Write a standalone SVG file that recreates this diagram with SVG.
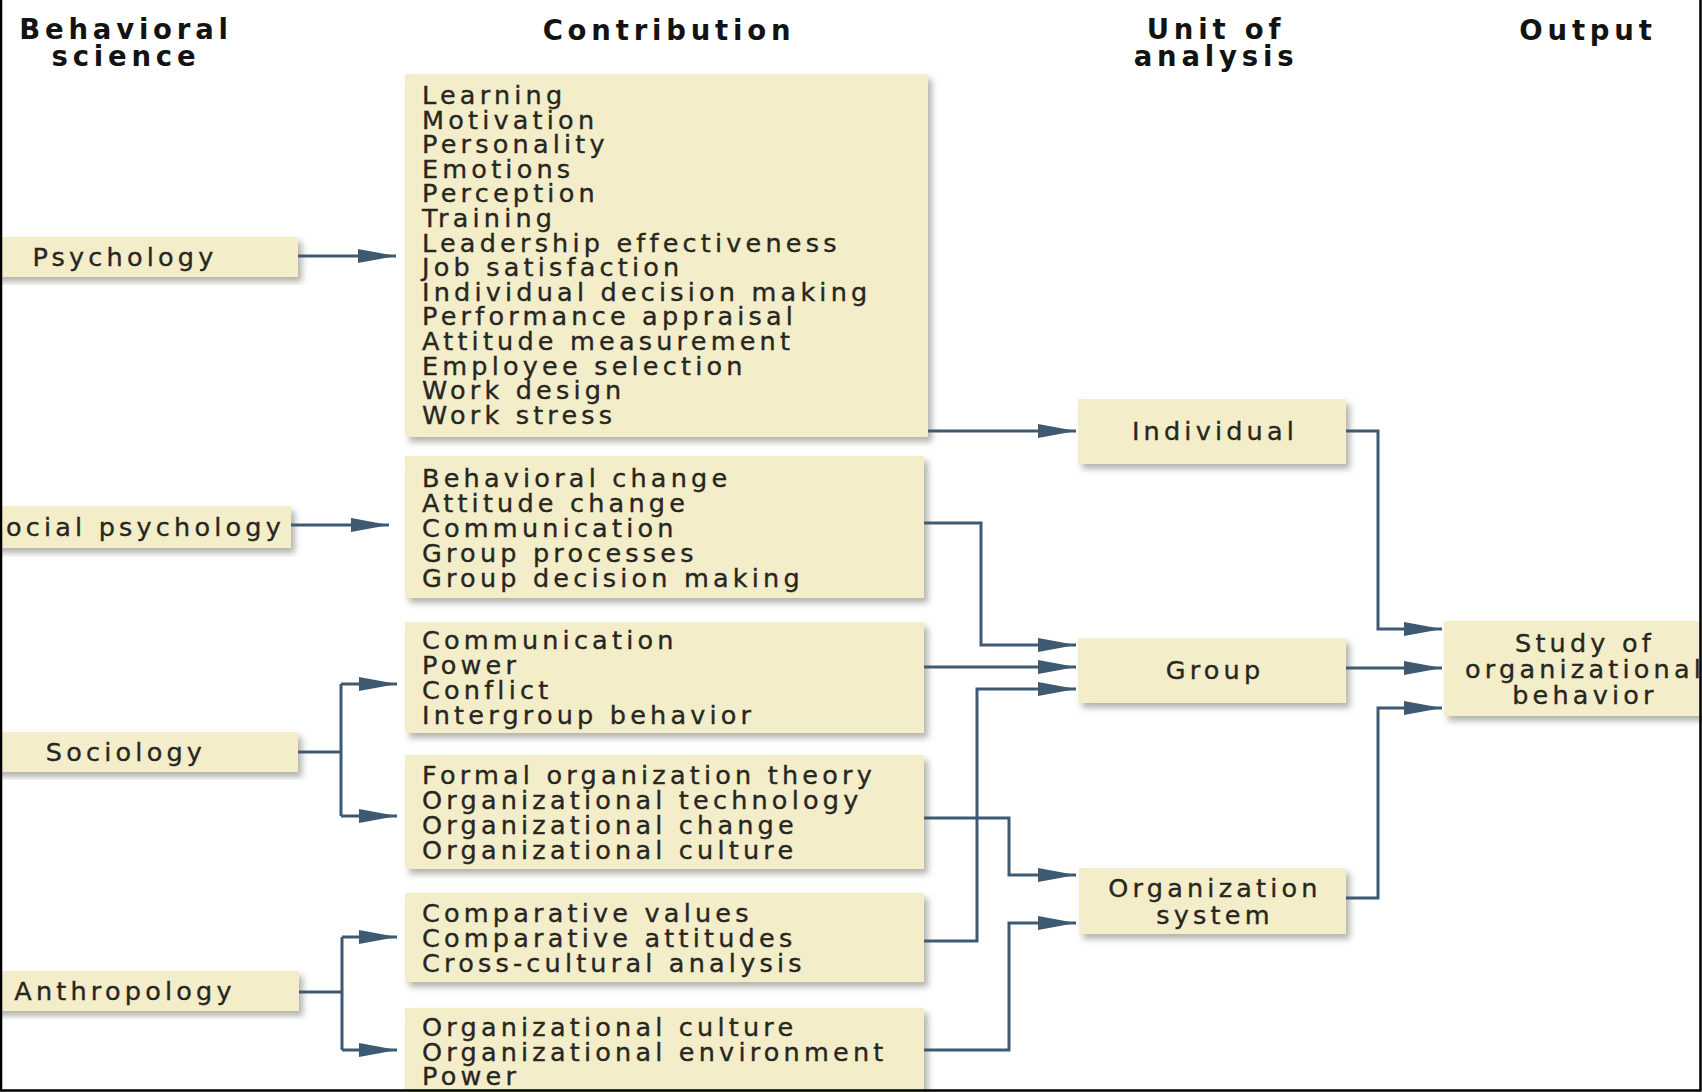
<svg xmlns="http://www.w3.org/2000/svg" width="1702" height="1092" viewBox="0 0 1702 1092">
  <style>
    .box { fill: #f3edc9; filter: url(#shadow); }
    .t { font-family: "DejaVu Sans", "Liberation Sans", sans-serif; font-size: 25.5px; letter-spacing: 4.2px; fill: #27261f; stroke: #27261f; stroke-width: 0.35; }
    .c { text-anchor: middle; }
    .h { font-family: "DejaVu Sans", "Liberation Sans", sans-serif; font-weight: bold; font-size: 27.5px; letter-spacing: 4.8px; fill: #131313; text-anchor: middle; }
    .link { fill: none; stroke: #3d5a72; stroke-width: 3; }
    .arr { marker-end: url(#head); }
  </style>
  <defs>
    <filter id="shadow" x="-5%" y="-10%" width="115%" height="130%">
      <feDropShadow dx="4" dy="5" stdDeviation="3" flood-color="#76766c" flood-opacity="0.55"/>
    </filter>
    <marker id="head" markerUnits="userSpaceOnUse" markerWidth="40" markerHeight="14" refX="38" refY="7" orient="auto">
      <path d="M0,0 L38,7 L0,14 z" fill="#3d5a72"/>
    </marker>
  </defs>

  <rect width="1702" height="1092" fill="#ffffff"/>

  <!-- column headings -->
  <g id="headings">
    <text class="h" x="126" y="39">Behavioral</text>
    <text class="h" x="126" y="66">science</text>
    <text class="h" x="669" y="40">Contribution</text>
    <text class="h" x="1216" y="39">Unit of</text>
    <text class="h" x="1216" y="66">analysis</text>
    <text class="h" x="1588" y="40">Output</text>
  </g>

  <!-- behavioral sciences -->
  <g id="psychology">
    <rect class="box" x="-10" y="237" width="308" height="40"/>
    <text class="t c" x="125" y="266">Psychology</text>
  </g>
  <g id="social-psychology">
    <rect class="box" x="-10" y="506" width="301" height="42"/>
    <text class="t" x="285" y="536" text-anchor="end">Social psychology</text>
  </g>
  <g id="sociology">
    <rect class="box" x="-10" y="732" width="308" height="40"/>
    <text class="t c" x="126" y="761">Sociology</text>
  </g>
  <g id="anthropology">
    <rect class="box" x="-10" y="971" width="309" height="40"/>
    <text class="t c" x="125" y="1000">Anthropology</text>
  </g>

  <!-- contributions -->
  <g id="psychology-topics">
    <rect class="box" x="405" y="74" width="523" height="363"/>
    <text class="t" x="422" y="104">Learning</text>
    <text class="t" x="422" y="128.6">Motivation</text>
    <text class="t" x="422" y="153.2">Personality</text>
    <text class="t" x="422" y="177.8">Emotions</text>
    <text class="t" x="422" y="202.4">Perception</text>
    <text class="t" x="422" y="227">Training</text>
    <text class="t" x="422" y="251.6">Leadership effectiveness</text>
    <text class="t" x="422" y="276.2">Job satisfaction</text>
    <text class="t" x="422" y="300.8">Individual decision making</text>
    <text class="t" x="422" y="325.4">Performance appraisal</text>
    <text class="t" x="422" y="350">Attitude measurement</text>
    <text class="t" x="422" y="374.6">Employee selection</text>
    <text class="t" x="422" y="399.2">Work design</text>
    <text class="t" x="422" y="423.8">Work stress</text>
  </g>
  <g id="social-psychology-topics">
    <rect class="box" x="405" y="456" width="519" height="142"/>
    <text class="t" x="422" y="487">Behavioral change</text>
    <text class="t" x="422" y="512">Attitude change</text>
    <text class="t" x="422" y="537">Communication</text>
    <text class="t" x="422" y="562">Group processes</text>
    <text class="t" x="422" y="587">Group decision making</text>
  </g>
  <g id="sociology-group-topics">
    <rect class="box" x="405" y="622" width="519" height="111"/>
    <text class="t" x="422" y="649">Communication</text>
    <text class="t" x="422" y="674">Power</text>
    <text class="t" x="422" y="699">Conflict</text>
    <text class="t" x="422" y="724">Intergroup behavior</text>
  </g>
  <g id="sociology-organization-topics">
    <rect class="box" x="405" y="755" width="519" height="114"/>
    <text class="t" x="422" y="784">Formal organization theory</text>
    <text class="t" x="422" y="809">Organizational technology</text>
    <text class="t" x="422" y="834">Organizational change</text>
    <text class="t" x="422" y="859">Organizational culture</text>
  </g>
  <g id="anthropology-comparative-topics">
    <rect class="box" x="405" y="893" width="519" height="89"/>
    <text class="t" x="422" y="922">Comparative values</text>
    <text class="t" x="422" y="947">Comparative attitudes</text>
    <text class="t" x="422" y="972">Cross-cultural analysis</text>
  </g>
  <g id="anthropology-organization-topics">
    <rect class="box" x="405" y="1008" width="519" height="100"/>
    <text class="t" x="422" y="1036">Organizational culture</text>
    <text class="t" x="422" y="1061">Organizational environment</text>
    <text class="t" x="422" y="1085">Power</text>
  </g>

  <!-- units of analysis -->
  <g id="individual">
    <rect class="box" x="1078" y="399" width="268" height="65"/>
    <text class="t c" x="1215" y="440">Individual</text>
  </g>
  <g id="group">
    <rect class="box" x="1078" y="638" width="268" height="65"/>
    <text class="t c" x="1215" y="679">Group</text>
  </g>
  <g id="organization-system">
    <rect class="box" x="1079" y="868" width="267" height="66"/>
    <text class="t c" x="1215" y="897">Organization</text>
    <text class="t c" x="1215" y="924">system</text>
  </g>

  <!-- output -->
  <g id="study-of-ob">
    <rect class="box" x="1444" y="621" width="280" height="95"/>
    <text class="t c" x="1585" y="652">Study of</text>
    <text class="t c" x="1585" y="678">organizational</text>
    <text class="t c" x="1585" y="704">behavior</text>
  </g>

  <!-- connectors -->
  <g id="connectors">
    <path class="link arr" d="M298,256 H396"/>
    <path class="link arr" d="M291,525 H389"/>
    <path class="link" d="M298,752 H341 M341,684 V816"/>
    <path class="link arr" d="M341,684 H397"/>
    <path class="link arr" d="M341,816 H397"/>
    <path class="link" d="M299,992 H342 M342,937 V1050"/>
    <path class="link arr" d="M342,937 H397"/>
    <path class="link arr" d="M342,1050 H397"/>
    <path class="link arr" d="M928,431 H1076"/>
    <path class="link arr" d="M924,523 H981 V645 H1076"/>
    <path class="link arr" d="M924,667 H1076"/>
    <path class="link arr" d="M924,941 H977 V689 H1076"/>
    <path class="link arr" d="M924,818 H1009 V875 H1076"/>
    <path class="link arr" d="M924,1050 H1009 V923 H1076"/>
    <path class="link arr" d="M1346,431 H1378 V629 H1442"/>
    <path class="link arr" d="M1346,668 H1442"/>
    <path class="link arr" d="M1346,898 H1378 V708 H1442"/>
  </g>

  <!-- frame edges -->
  <path d="M1,0 V1090.5 H1700.5 V0" fill="none" stroke="#000000" stroke-width="2.5"/>
</svg>
